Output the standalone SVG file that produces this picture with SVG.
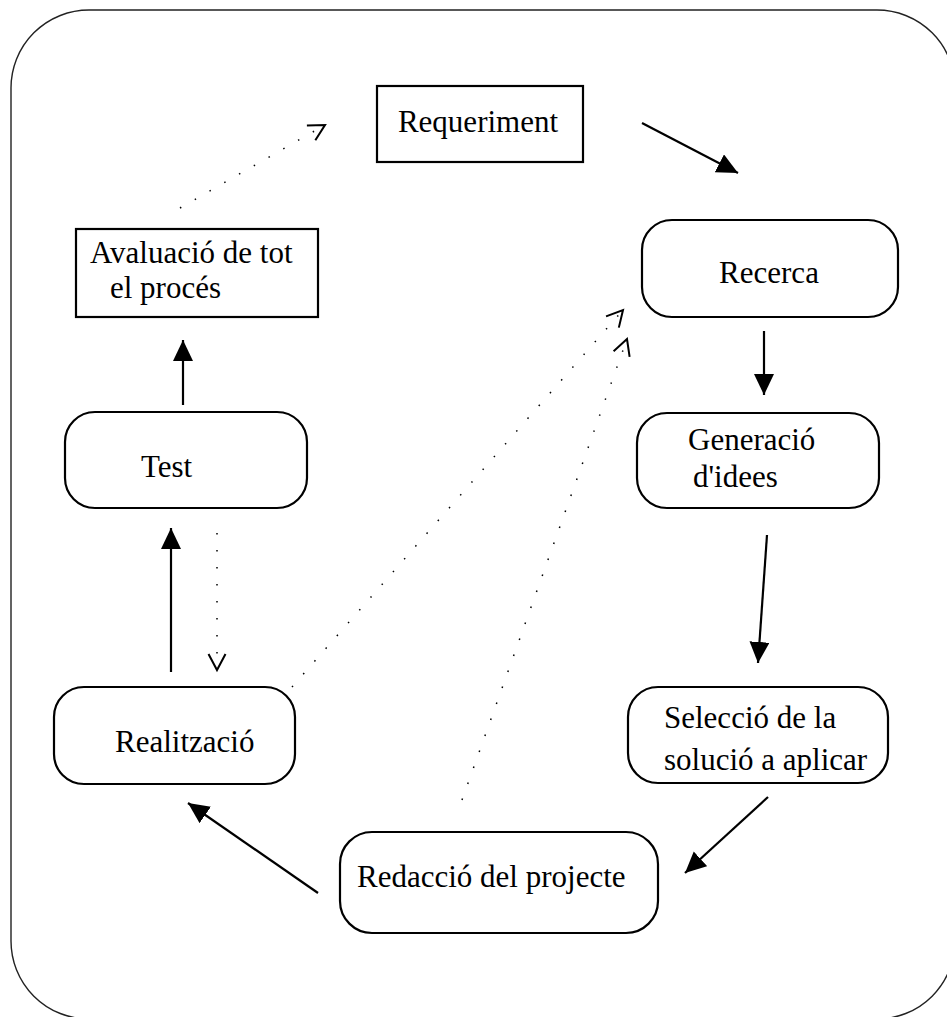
<svg xmlns="http://www.w3.org/2000/svg" width="947" height="1017" viewBox="0 0 947 1017">
<style>
.box{fill:#fff;stroke:#000;stroke-width:2.2}
text{font-family:'Liberation Serif','Times New Roman',Times,'DejaVu Serif',serif;font-size:31px;fill:#000}
.solid{stroke:#000;stroke-width:2.2;fill:none}
.dot{stroke:#000;stroke-width:1.5;fill:none;stroke-dasharray:1.5 15.5}
</style>
<defs>
<marker id="fill" markerUnits="userSpaceOnUse" markerWidth="24" markerHeight="22" refX="21" refY="10" orient="auto">
<path d="M0,0 L21,10 L0,20 z" fill="#000" stroke="none"/>
</marker>
<marker id="open" markerUnits="userSpaceOnUse" markerWidth="20" markerHeight="22" refX="17" refY="10" orient="auto">
<path d="M1,1.5 L17,10 L1,18.5" fill="none" stroke="#000" stroke-width="2" stroke-dasharray="none"/>
</marker>
</defs>
<rect id="frame" x="11" y="10" width="944" height="1009" rx="78" ry="78" fill="none" stroke="#222" stroke-width="1.4"/>
<g id="connectors">
<line class="solid" x1="642" y1="123" x2="738" y2="173" marker-end="url(#fill)"/>
<line class="solid" x1="764" y1="331" x2="764" y2="395" marker-end="url(#fill)"/>
<line class="solid" x1="767" y1="535" x2="758" y2="663" marker-end="url(#fill)"/>
<line class="solid" x1="768" y1="797" x2="685" y2="873" marker-end="url(#fill)"/>
<line class="solid" x1="318" y1="893" x2="188" y2="803" marker-end="url(#fill)"/>
<line class="solid" x1="171" y1="672" x2="171" y2="528" marker-end="url(#fill)"/>
<line class="solid" x1="183" y1="405" x2="183" y2="340" marker-end="url(#fill)"/>
<line class="dot" x1="217" y1="533" x2="217" y2="670" marker-end="url(#open)"/>
<line class="dot" x1="180" y1="208" x2="325" y2="125" marker-end="url(#open)"/>
<line class="dot" x1="292" y1="687" x2="623" y2="310" marker-end="url(#open)"/>
<line class="dot" x1="462" y1="800" x2="627" y2="339" marker-end="url(#open)"/>
</g>
<g id="requeriment">
<rect class="box" x="377" y="86" width="206" height="76"/>
<text x="478" y="132" text-anchor="middle" font-family="Liberation Serif, serif">Requeriment</text>
</g>
<g id="recerca">
<rect class="box" x="642" y="220" width="256" height="97" rx="30" ry="30"/>
<text x="769" y="283" text-anchor="middle" font-family="Liberation Serif, serif">Recerca</text>
</g>
<g id="generacio">
<rect class="box" x="637" y="413" width="242" height="95" rx="30" ry="30"/>
<text x="688" y="450" font-family="Liberation Serif, serif">Generació</text>
<text x="693" y="487" font-family="Liberation Serif, serif">d'idees</text>
</g>
<g id="seleccio">
<rect class="box" x="628" y="687" width="260" height="96" rx="30" ry="30"/>
<text x="664" y="728" font-family="Liberation Serif, serif">Selecció de la</text>
<text x="664" y="770" font-family="Liberation Serif, serif">solució a aplicar</text>
</g>
<g id="redaccio">
<rect class="box" x="340" y="832" width="318" height="101" rx="32" ry="32"/>
<text x="357" y="887" font-family="Liberation Serif, serif">Redacció del projecte</text>
</g>
<g id="realitzacio">
<rect class="box" x="54" y="687" width="241" height="97" rx="30" ry="30"/>
<text x="115" y="752" font-family="Liberation Serif, serif">Realització</text>
</g>
<g id="test">
<rect class="box" x="65" y="412" width="242" height="96" rx="30" ry="30"/>
<text x="141" y="477" font-family="Liberation Serif, serif">Test</text>
</g>
<g id="avaluacio">
<rect class="box" x="76" y="229" width="242" height="88"/>
<text x="90" y="263" font-family="Liberation Serif, serif">Avaluació de tot</text>
<text x="110" y="298" font-family="Liberation Serif, serif">el procés</text>
</g>
</svg>
